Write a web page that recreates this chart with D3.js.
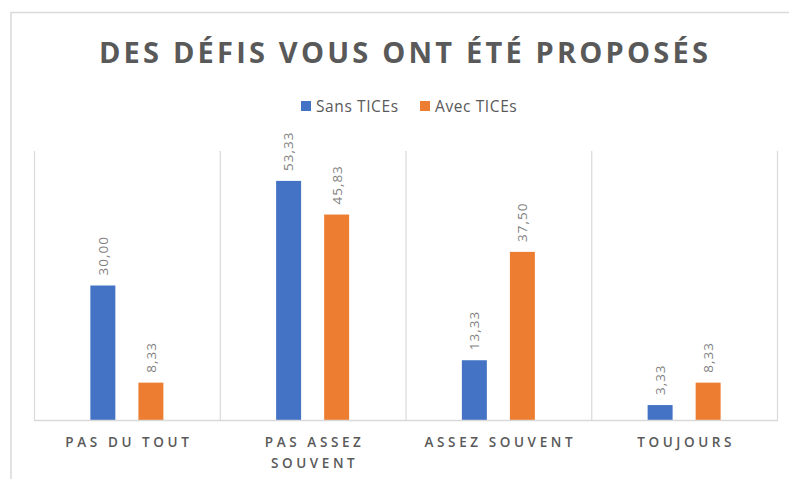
<!DOCTYPE html>
<html>
<head>
<meta charset="utf-8">
<script src="https://cdn.jsdelivr.net/npm/d3@7"></script>
<style>
  body { margin: 0; background: #fff; }
  text { font-family: "Open Sans", sans-serif; }
</style>
</head>
<body>
<div id="chart"></div>
<script>
// Data
const categories = [["PAS DU TOUT"], ["PAS ASSEZ", "SOUVENT"], ["ASSEZ SOUVENT"], ["TOUJOURS"]]
const series = ["Sans TICEs", "Avec TICEs"]
const sansTices = [30.00, 53.33, 13.33, 3.33]
const avecTices = [8.33, 45.83, 37.50, 8.33]
const colors = ["#4472C4", "#ED7D31"]

const width = 789
const height = 479
const margin = {top: 151, bottom: 59, left: 34, right: 12}

const svg = d3.select("#chart")
    .append("svg")
    .attr("width", width)
    .attr("height", height)

// outer frame of the chart
svg.append("path")
    .attr("d", `M11,${height} V12.5 H${width}`)
    .attr("fill", "none")
    .attr("stroke", "#d9d9d9")
    .attr("stroke-width", 1.5)

const keys = categories.map(c => c.join(" "))
const x0 = d3.scaleBand()
    .domain(keys)
    .range([margin.left, width - margin.right])
    .padding(0)

const bw = x0.bandwidth()
const x1 = d3.scaleBand()
    .domain(series)
    .range([bw / 2 - 36.5, bw / 2 + 36.5])
    .paddingInner(0.48)

const y = d3.scaleLinear()
    .domain([0, 60])
    .range([height - margin.bottom, margin.top])

// vertical separators between categories
const edges = keys.map(k => x0(k)).concat([x0.range()[1]])
svg.append("g")
    .selectAll("line")
    .data(edges)
    .join("line")
    .attr("x1", d => d + 0.5)
    .attr("x2", d => d + 0.5)
    .attr("y1", y(60))
    .attr("y2", y(0))
    .attr("stroke", "#d9d9d9")
    .attr("stroke-width", 1.2)

// bars
const table = keys.map((k, i) => ({key: k, values: [sansTices[i], avecTices[i]]}))

const groups = svg.append("g")
    .selectAll("g")
    .data(table)
    .join("g")
    .attr("transform", d => `translate(${x0(d.key)},0)`)

groups.selectAll("rect")
    .data(d => d.values.map((v, j) => ({s: series[j], v: v, j: j})))
    .join("rect")
    .attr("x", d => x1(d.s))
    .attr("y", d => y(d.v))
    .attr("width", x1.bandwidth())
    .attr("height", d => y(0) - y(d.v))
    .attr("fill", d => colors[d.j])

// value labels, rotated
groups.selectAll("text")
    .data(d => d.values.map((v, j) => ({s: series[j], v: v})))
    .join("text")
    .attr("transform", d => `translate(${x1(d.s) + x1.bandwidth() / 2},${y(d.v) - 10}) rotate(-90)`)
    .attr("dy", "0.36em")
    .attr("fill", "#7f7f7f")
    .style("font-size", "13.5px")
    .style("letter-spacing", "1px")
    .text(d => d3.format(".2f")(d.v).replace(".", ","))

// baseline
svg.append("line")
    .attr("x1", x0.range()[0])
    .attr("x2", x0.range()[1] + 1)
    .attr("y1", y(0) + 0.5)
    .attr("y2", y(0) + 0.5)
    .attr("stroke", "#d9d9d9")
    .attr("stroke-width", 1.5)

// category labels
const catLabels = svg.append("g")
    .selectAll("text")
    .data(categories)
    .join("text")
    .attr("text-anchor", "middle")
    .attr("fill", "#595959")
    .style("font-size", "13.5px")
    .style("font-weight", "600")
    .style("letter-spacing", "3.6px")

catLabels.selectAll("tspan")
    .data((d, i) => d.map(line => ({line: line, key: keys[i]})))
    .join("tspan")
    .attr("x", d => x0(d.key) + bw / 2 + 2)
    .attr("y", (d, i) => 447 + i * 21)
    .text(d => d.line)

// title
svg.append("text")
    .attr("x", 405)
    .attr("y", 63)
    .attr("text-anchor", "middle")
    .attr("fill", "#595959")
    .style("font-size", "29px")
    .style("font-weight", "bold")
    .style("letter-spacing", "3.2px")
    .text("DES DÉFIS VOUS ONT ÉTÉ PROPOSÉS")

// legend
const legendX = [301, 420]
const legend = svg.append("g")
    .selectAll("g")
    .data(series)
    .join("g")
    .attr("transform", (d, i) => `translate(${legendX[i]},101)`)

legend.append("rect")
    .attr("width", 10)
    .attr("height", 10)
    .attr("fill", (d, i) => colors[i])

legend.append("text")
    .attr("x", 15)
    .attr("y", 10.5)
    .attr("fill", "#595959")
    .style("font-size", "15.5px")
    .style("letter-spacing", "0.6px")
    .text(d => d)
</script>
</body>
</html>
